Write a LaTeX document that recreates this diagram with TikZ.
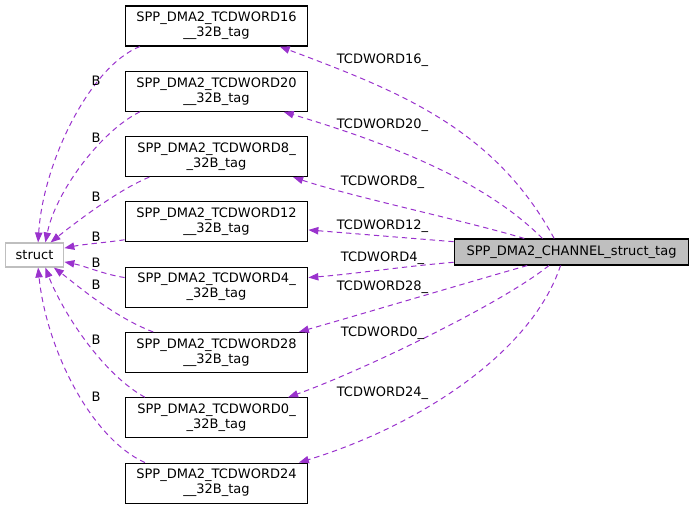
\documentclass[tikz,border=0pt]{standalone}
\usepackage{fontspec}
\setmainfont{DejaVu Sans}
\usepackage{xcolor}
\usepackage{tikz}
\usetikzlibrary{arrows.meta}

\definecolor{edgepurple}{HTML}{9A32CD}
\definecolor{boxgray}{HTML}{BFBFBF}

\begin{document}
\begin{tikzpicture}[x=0.75pt, y=-0.75pt, font=\fontsize{9.75}{11.25}\selectfont,
  >={Triangle[length=7.5pt, width=5.5pt]},
  member/.style = {draw, line width=0.8pt, minimum width=137pt,
                   minimum height=30pt, inner sep=0pt, align=center},
  extern/.style = {draw=boxgray, line width=0.8pt, minimum width=44pt,
                   minimum height=18pt, inner sep=0pt},
  top/.style    = {draw, fill=boxgray, line width=0.8pt, minimum width=176pt,
                   minimum height=19.5pt, inner sep=0pt},
  dep/.style    = {->, draw=edgepurple, line width=0.75pt,
                   dash pattern=on 4pt off 3pt},
  elbl/.style   = {inner sep=1pt}
]
  \useasboundingbox (0,0) rectangle (695,509);

  %% nodes
  \node[top]    (ch)  at (571.5,252)   {SPP\_DMA2\_CHANNEL\_struct\_tag};
  \node[extern] (s)   at (34.5,255)    {struct};
  \node[member] (t16) at (216.5,26)    {SPP\_DMA2\_TCDWORD16\\\_\_32B\_tag};
  \node[member] (t20) at (216.5,91.3)  {SPP\_DMA2\_TCDWORD20\\\_\_32B\_tag};
  \node[member] (t8)  at (216.5,156.6) {SPP\_DMA2\_TCDWORD8\_\\\_32B\_tag};
  \node[member] (t12) at (216.5,221.9) {SPP\_DMA2\_TCDWORD12\\\_\_32B\_tag};
  \node[member] (t4)  at (216.5,287.2) {SPP\_DMA2\_TCDWORD4\_\\\_32B\_tag};
  \node[member] (t28) at (216.5,352.5) {SPP\_DMA2\_TCDWORD28\\\_\_32B\_tag};
  \node[member] (t0)  at (216.5,417.8) {SPP\_DMA2\_TCDWORD0\_\\\_32B\_tag};
  \node[member] (t24) at (216.5,483.1) {SPP\_DMA2\_TCDWORD24\\\_\_32B\_tag};

  %% CHANNEL -> members
  \draw[dep] (ch.142) .. controls +(-60,-110) and +(120,45) .. (t16.-18);
  \draw[dep] (ch.155) .. controls +(-60,-60) and +(100,30) .. (t20.-17);
  \draw[dep] (ch.164) .. controls +(-60,-18) and +(60,20) .. (t8.-15);
  \draw[dep] (ch.175) .. controls +(-50,-4) and +(50,4) .. (t12.-5);
  \draw[dep] (ch.185) .. controls +(-50,4) and +(50,-4) .. (t4.6);
  \draw[dep] (ch.197) .. controls +(-70,20) and +(70,-20) .. (t28.14);
  \draw[dep] (ch.211) .. controls +(-50,40) and +(70,-25) .. (t0.16);
  \draw[dep] (ch.231) .. controls +(-30,90) and +(115,-35) .. (t24.14);

  \node[elbl] (l16) at (382.5,60)  {TCDWORD16\_};
  \node[elbl] (l20) at (382.5,125) {TCDWORD20\_};
  \node[elbl] (l8)  at (382.5,182) {TCDWORD8\_};
  \node[elbl] (l12) at (382.5,226) {TCDWORD12\_};
  \node[elbl] (l4)  at (382.5,258) {TCDWORD4\_};
  \node[elbl] (l28) at (382.5,287) {TCDWORD28\_};
  \node[elbl] (l0)  at (382.5,333) {TCDWORD0\_};
  \node[elbl] (l24) at (382.5,393) {TCDWORD24\_};

  %% members -> struct
  \draw[dep] (t16.195) .. controls +(-50,20) and +(5,-80) .. (s.74);
  \draw[dep] (t20.195) .. controls +(-40,20) and +(10,-50) .. (s.49);
  \draw[dep] (t8.197) .. controls +(-30,12) and +(25,-20) .. (s.38);
  \draw[dep] (t12.191) .. controls +(-20,3) and +(20,-4) .. (s.13);
  \draw[dep] (t4.174) .. controls +(-20,-3) and +(20,4) .. (s.-13);
  \draw[dep] (t28.162) .. controls +(-40,-15) and +(20,15) .. (s.-33);
  \draw[dep] (t0.164) .. controls +(-45,-25) and +(15,40) .. (s.-49);
  \draw[dep] (t24.164) .. controls +(-55,-25) and +(8,80) .. (s.-74);

  \node[elbl] (b16) at (96,81)  {B};
  \node[elbl] (b20) at (96,138) {B};
  \node[elbl] (b8)  at (96,197) {B};
  \node[elbl] (b12) at (96,237) {B};
  \node[elbl] (b4)  at (96,263) {B};
  \node[elbl] (b28) at (96,285) {B};
  \node[elbl] (b0)  at (96,340) {B};
  \node[elbl] (b24) at (96,397) {B};
\end{tikzpicture}
\end{document}
